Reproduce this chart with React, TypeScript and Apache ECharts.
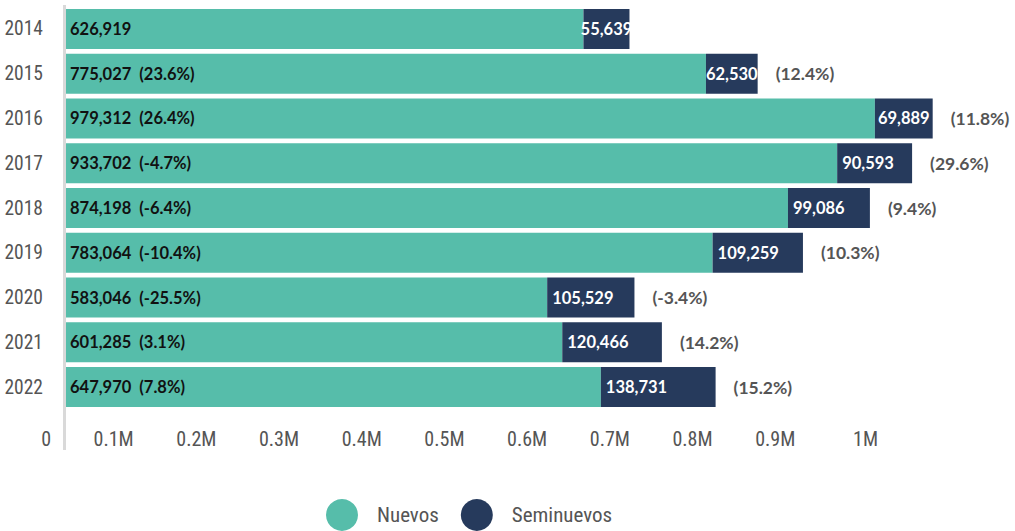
import React, { useEffect, useRef } from "react";
import * as echarts from "echarts";

const years = ["2014", "2015", "2016", "2017", "2018", "2019", "2020", "2021", "2022"];
const nuevos = [626919, 775027, 979312, 933702, 874198, 783064, 583046, 601285, 647970];
const seminuevos = [55639, 62530, 69889, 90593, 99086, 109259, 105529, 120466, 138731];
const nuevosGrowth = [null, 23.6, 26.4, -4.7, -6.4, -10.4, -25.5, 3.1, 7.8];
const seminuevosGrowth = [null, 12.4, 11.8, 29.6, 9.4, 10.3, -3.4, 14.2, 15.2];
const xTicks = { min: 0, max: 1100000, interval: 100000 };

const TEAL = "#56bdaa";
const NAVY = "#263a5c";
const GRAY = "#555555";
const NARROW = '"Liberation Sans Narrow", "Roboto Condensed", "DejaVu Sans Condensed", Lato, sans-serif';
const BOLD = "Lato, sans-serif";

const fmt = (v: number) => v.toLocaleString("en-US");
const pct = (g: number | null) => (g === null ? "" : `(${g.toFixed(1)}%)`);

export default function App() {
  const ref = useRef<HTMLDivElement>(null);
  useEffect(() => {
    document.body.style.margin = "0";
    if (!ref.current) return;
    const chart = echarts.init(ref.current, undefined, { renderer: "svg" });
    chart.setOption({
      animation: false,
      grid: { left: 65, top: 6.6, bottom: 121.6, right: 40.3, containLabel: false },
      legend: {
        data: ["Nuevos", "Seminuevos"],
        left: 321,
        top: 494,
        icon: "circle",
        itemWidth: 32,
        itemHeight: 32,
        itemGap: 22,
        textStyle: { color: GRAY, fontFamily: NARROW, fontSize: 21, padding: [0, 0, 0, 14] },
      },
      xAxis: {
        type: "value",
        min: xTicks.min,
        max: xTicks.max,
        interval: xTicks.interval,
        splitLine: { show: false },
        axisLine: { show: false },
        axisTick: { show: false },
        axisLabel: {
          showMaxLabel: false,
          align: "right",
          padding: [0, 14, 0, 0],
          margin: 20,
          color: GRAY,
          fontFamily: NARROW,
          fontSize: 20,
          formatter: (v: number) => (v === 0 ? "0" : `${Math.round(v / 1e5) / 10}M`),
        },
      },
      yAxis: {
        type: "category",
        data: years,
        inverse: true,
        axisLine: { show: false },
        axisTick: { show: false },
        axisLabel: { margin: 22, color: GRAY, fontFamily: NARROW, fontSize: 19.5 },
      },
      graphic: [
        {
          type: "line",
          shape: { x1: 64.5, y1: 5, x2: 64.5, y2: 450 },
          style: { stroke: "#d9d9d9", lineWidth: 3 },
          z: 10,
        },
      ],
      series: [
        {
          name: "Nuevos",
          type: "bar",
          stack: "total",
          barWidth: 40,
          itemStyle: { color: TEAL },
          data: nuevos,
          label: {
            show: true,
            position: "insideLeft",
            distance: 5,
            color: "#111",
            fontFamily: BOLD,
            fontWeight: "bold",
            fontSize: 16.5,
            formatter: (p: any) => {
              const g = nuevosGrowth[p.dataIndex];
              return g === null ? fmt(p.value) : `${fmt(p.value)}  ${pct(g)}`;
            },
          },
        },
        {
          name: "Seminuevos",
          type: "bar",
          stack: "total",
          barWidth: 40,
          itemStyle: { color: NAVY },
          data: seminuevos.map((v) => ({
            value: v,
            label: { position: v < 75000 ? "inside" : "insideLeft" },
          })),
          label: {
            show: true,
            position: "insideLeft",
            distance: 5,
            color: "#fff",
            fontFamily: BOLD,
            fontWeight: "bold",
            fontSize: 16.5,
            formatter: (p: any) => fmt(p.value),
          },
        },
        {
          name: "growth",
          type: "bar",
          stack: "total",
          barWidth: 40,
          itemStyle: { color: "transparent" },
          data: seminuevosGrowth.map(() => 0),
          label: {
            show: true,
            position: "right",
            distance: 18,
            color: GRAY,
            fontFamily: BOLD,
            fontWeight: "bold",
            fontSize: 17.5,
            formatter: (p: any) => pct(seminuevosGrowth[p.dataIndex]),
          },
        },
      ],
    });
    return () => chart.dispose();
  }, []);
  return <div ref={ref} style={{ width: 1015, height: 531 }} />;
}
